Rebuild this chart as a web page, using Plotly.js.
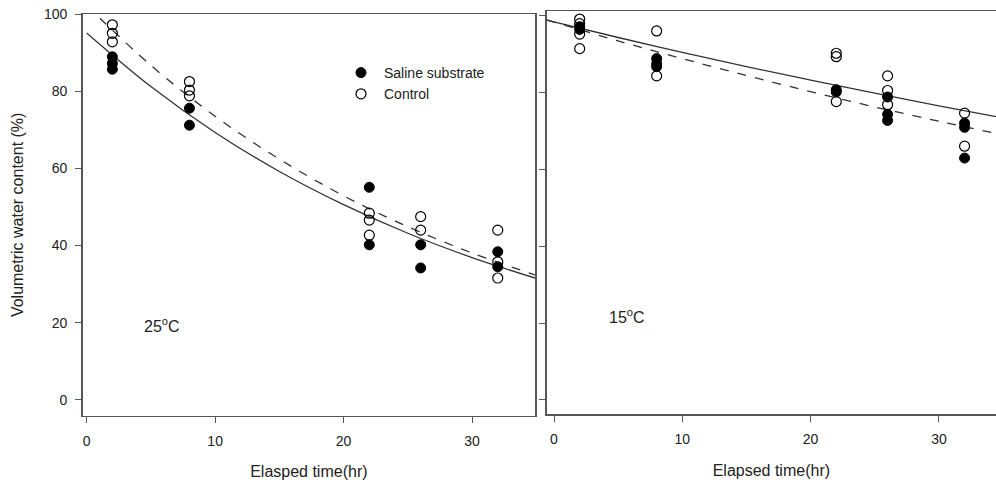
<!DOCTYPE html>
<html>
<head>
<meta charset="utf-8">
<script src="https://cdn.plot.ly/plotly-3.0.1.min.js"></script>
<style>html,body{margin:0;padding:0;background:#fff;}#chart{width:996px;height:485px;}</style>
</head>
<body>
<div id="chart"></div>
<script>
// ---- Data ----
// 25 °C panel
const t25Saline = [2, 2, 2, 8, 8, 22, 22, 26, 26, 32, 32];
const v25Saline = [88.9, 87.2, 85.7, 75.6, 71.2, 55.1, 40.2, 40.2, 34.2, 38.4, 34.5];
const t25Control = [2, 2, 2, 8, 8, 8, 22, 22, 22, 26, 26, 32, 32, 32];
const v25Control = [97.2, 95.0, 92.8, 82.5, 80.3, 78.8, 48.4, 46.6, 42.7, 47.5, 44.0, 44.0, 35.8, 31.6];
const curveT25 = [0, 5, 10, 15, 20, 25, 30, 34.9];
const fit25Saline = [95.1, 81.2, 69.3, 59.2, 50.6, 43.2, 36.9, 31.6];
const fit25Control = [102.2, 86.7, 73.5, 62.4, 52.9, 44.9, 38.1, 32.4];

// 15 °C panel
const t15Saline = [2, 2, 8, 8, 8, 22, 22, 26, 26, 26, 32, 32, 32];
const v15Saline = [97.2, 96.5, 88.9, 87.6, 86.8, 80.8, 80.2, 78.9, 74.4, 72.8, 72.1, 71.0, 63.0];
const t15Control = [2, 2, 2, 2, 8, 8, 22, 22, 22, 26, 26, 26, 32, 32];
const v15Control = [99.2, 98.0, 95.3, 91.5, 96.1, 84.4, 90.3, 89.4, 77.7, 84.4, 80.6, 76.9, 74.7, 66.1];
const curveT15 = [-0.57, 5, 10, 15, 20, 25, 30, 34.45];
const fit15Saline = [98.9, 94.4, 90.5, 86.8, 83.3, 79.9, 76.6, 73.8];
const fit15Control = [99.0, 93.5, 88.9, 84.5, 80.3, 76.3, 72.6, 69.4];

const xTicks = [0, 10, 20, 30];
const yTicks = [0, 20, 40, 60, 80, 100];
const seriesNames = ["Saline substrate", "Control"];

// ---- Styling ----
const FONT = "Liberation Sans, Arial, sans-serif";
const INK = "#222";
const AXIS = "#555";
const filledMarker = {symbol: "circle", size: 10, color: "#000", line: {color: "#000", width: 1}};
const openMarker = {symbol: "circle-open", size: 10, color: "#000", line: {color: "#000", width: 1.2}};
const solidLine = {color: "#333", width: 1.3, shape: "spline"};
const dashLine = {color: "#333", width: 1.3, dash: "dash", shape: "spline"};

const traces = [
  {x: curveT25, y: fit25Saline, mode: "lines", line: solidLine, showlegend: false, xaxis: "x", yaxis: "y", hoverinfo: "skip"},
  {x: curveT25, y: fit25Control, mode: "lines", line: dashLine, showlegend: false, xaxis: "x", yaxis: "y", hoverinfo: "skip"},
  {x: t25Saline, y: v25Saline, mode: "markers", name: seriesNames[0], marker: filledMarker, xaxis: "x", yaxis: "y", cliponaxis: false},
  {x: t25Control, y: v25Control, mode: "markers", name: seriesNames[1], marker: openMarker, xaxis: "x", yaxis: "y", cliponaxis: false},
  {x: curveT15, y: fit15Saline, mode: "lines", line: solidLine, showlegend: false, xaxis: "x2", yaxis: "y2", hoverinfo: "skip"},
  {x: curveT15, y: fit15Control, mode: "lines", line: dashLine, showlegend: false, xaxis: "x2", yaxis: "y2", hoverinfo: "skip"},
  {x: t15Saline, y: v15Saline, mode: "markers", name: seriesNames[0], marker: filledMarker, showlegend: false, xaxis: "x2", yaxis: "y2", cliponaxis: false},
  {x: t15Control, y: v15Control, mode: "markers", name: seriesNames[1], marker: openMarker, showlegend: false, xaxis: "x2", yaxis: "y2", cliponaxis: false}
];

const W = 996, H = 485;
const px = v => v / W;
const py = v => 1 - v / H;

const baseX = {
  showgrid: false, zeroline: false, showline: true, linecolor: AXIS, linewidth: 1.5,
  ticks: "outside", ticklen: 6, tickwidth: 1, tickcolor: AXIS, ticklabelstandoff: 6,
  tickmode: "array", tickvals: xTicks, ticktext: xTicks.map(String),
  tickfont: {family: FONT, size: 14, color: INK}, automargin: false
};
const baseY = {
  showgrid: false, zeroline: false, showline: true, linecolor: AXIS, linewidth: 1.5,
  ticks: "outside", ticklen: 6, tickwidth: 1, tickcolor: AXIS, ticklabelstandoff: 5,
  tickmode: "array", tickvals: yTicks, ticktext: yTicks.map(String),
  tickfont: {family: FONT, size: 14, color: INK}, automargin: false
};

const layout = {
  width: W, height: H,
  margin: {l: 0, r: 0, t: 0, b: 0},
  paper_bgcolor: "#fff", plot_bgcolor: "#fff",
  font: {family: FONT, color: INK},
  showlegend: true,
  legend: {
    x: px(338), y: py(57), xanchor: "left", yanchor: "top",
    bgcolor: "rgba(0,0,0,0)", borderwidth: 0, itemwidth: 36,
    font: {family: FONT, size: 14, color: INK}, tracegroupgap: 0
  },
  xaxis: Object.assign({}, baseX, {
    domain: [px(82.7), px(535)], range: [-0.31, 34.9], mirror: true, anchor: "y",
    title: {text: "Elasped time(hr)", font: {family: FONT, size: 16, color: INK}, standoff: 18}
  }),
  yaxis: Object.assign({}, baseY, {
    domain: [py(415.7), py(14)], range: [-4.07, 100], mirror: true, anchor: "x",
    title: {text: "Volumetric water content (%)", font: {family: FONT, size: 16, color: INK}, standoff: 16}
  }),
  xaxis2: Object.assign({}, baseX, {
    domain: [px(546.7), 1], range: [-0.57, 34.45], mirror: true, anchor: "y2",
    title: {text: "Elapsed time(hr)", font: {family: FONT, size: 16, color: INK}, standoff: 18}
  }),
  yaxis2: Object.assign({}, baseY, {
    domain: [py(414), py(11)], range: [-3.65, 101.3], anchor: "x2", showticklabels: false
  }),
  annotations: [
    {xref: "x", yref: "y", x: 5.9, y: 19.4, text: "25<sup>o</sup>C", showarrow: false,
     font: {family: FONT, size: 16, color: INK}},
    {xref: "x2", yref: "y2", x: 5.7, y: 22, text: "15<sup>o</sup>C", showarrow: false,
     font: {family: FONT, size: 16, color: INK}}
  ]
};

Plotly.newPlot("chart", traces, layout, {displayModeBar: false, staticPlot: true});
</script>
</body>
</html>
